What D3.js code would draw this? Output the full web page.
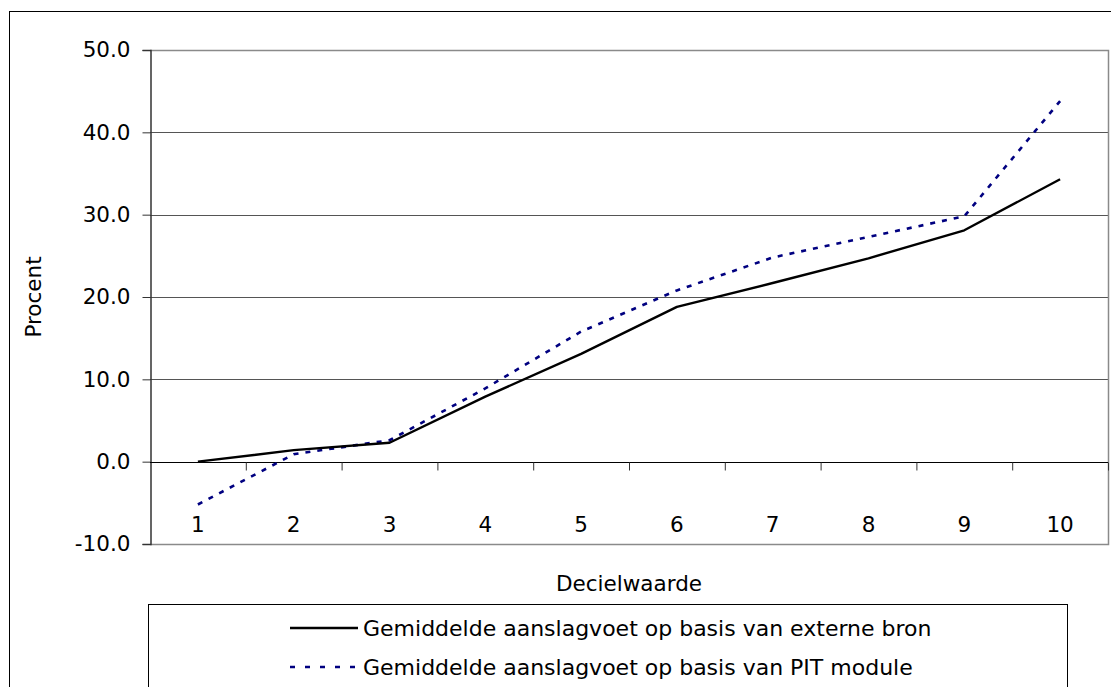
<!DOCTYPE html>
<html>
<head>
<meta charset="utf-8">
<script src="https://cdn.jsdelivr.net/npm/d3@7"></script>
<style>
  body { margin: 0; background: #fff; }
  svg { display: block; font-family: 'DejaVu Sans', Verdana, sans-serif; }
</style>
</head>
<body>
<div id="chart"></div>
<script>
const deciles = [1, 2, 3, 4, 5, 6, 7, 8, 9, 10]
const externeBron = [0.0, 1.4, 2.3, 7.9, 13.1, 18.8, 21.7, 24.7, 28.1, 34.3]
const pitModule = [-5.2, 0.9, 2.6, 8.9, 15.8, 20.8, 24.8, 27.3, 29.8, 43.8]
const yTicks = [-10, 0, 10, 20, 30, 40, 50]
const seriesNames = [
  'Gemiddelde aanslagvoet op basis van externe bron',
  'Gemiddelde aanslagvoet op basis van PIT module'
]

const W = 1111, H = 687
const plot = {left: 150, top: 50, right: 1108, bottom: 544}
const fontSize = 21.5

const svg = d3.select('#chart').append('svg')
  .attr('width', W)
  .attr('height', H)

// outer chart border
svg.append('rect')
  .attr('x', 9.5).attr('y', 11.5)
  .attr('width', 1110).attr('height', 690)
  .attr('fill', 'none')
  .attr('stroke', '#000')

const x = d3.scaleLinear()
  .domain([0.5, 10.5])
  .range([plot.left, plot.right])
const y = d3.scaleLinear()
  .domain([-10, 50])
  .range([plot.bottom, plot.top])

// Excel style labels: one decimal, plain hyphen for negatives
const fmt = d => d3.format('.1f')(d).replace('\u2212', '-')

// gridlines
svg.append('g')
  .selectAll('line')
  .data(yTicks.filter(d => d !== 0 && d !== -10 && d !== 50))
  .join('line')
    .attr('x1', plot.left).attr('x2', plot.right)
    .attr('y1', d => Math.round(y(d)) + 0.5).attr('y2', d => Math.round(y(d)) + 0.5)
    .attr('stroke', '#555')

// plot frame (top, right, bottom)
svg.append('path')
  .attr('d', `M${plot.left},${plot.top + 0.5}H${plot.right + 0.5}V${plot.bottom + 0.5}H${plot.left}`)
  .attr('fill', 'none')
  .attr('stroke', '#8a8a8a')
  .attr('stroke-width', 1.5)

// y axis
const yAxis = svg.append('g')
  .attr('transform', `translate(${plot.left + 0.5},0)`)
  .call(d3.axisLeft(y).tickValues(yTicks).tickSize(8).tickPadding(12).tickFormat(fmt))
yAxis.select('.domain').attr('stroke', '#333').attr('stroke-width', 1.5)
yAxis.selectAll('.tick line').attr('stroke', '#333')
yAxis.selectAll('.tick text')
  .attr('font-size', fontSize)
  .attr('fill', '#000')
  .attr('font-family', "'DejaVu Sans', Verdana, sans-serif")

// x axis at zero with tick marks between categories
const xAxis = svg.append('g')
  .attr('transform', `translate(0,${Math.round(y(0)) + 0.5})`)
  .call(d3.axisBottom(x).tickValues(d3.range(1.5, 11, 1)).tickSize(8).tickFormat(''))
xAxis.select('.domain').attr('stroke', '#000').attr('d', `M${plot.left},0H${plot.right}`)
xAxis.selectAll('.tick line').attr('stroke', '#333')

// category labels near bottom of the plot
svg.append('g')
  .selectAll('text')
  .data(deciles)
  .join('text')
    .attr('x', d => x(d))
    .attr('y', plot.bottom - 12)
    .attr('text-anchor', 'middle')
    .attr('font-size', fontSize)
    .text(d => d)

const line = d3.line()
  .x((d, i) => x(deciles[i]))
  .y(d => y(d))

svg.append('path')
  .datum(pitModule)
  .attr('d', line)
  .attr('fill', 'none')
  .attr('stroke', '#000080')
  .attr('stroke-width', 2.6)
  .attr('stroke-dasharray', '5 7')

svg.append('path')
  .datum(externeBron)
  .attr('d', line)
  .attr('fill', 'none')
  .attr('stroke', '#000')
  .attr('stroke-width', 2.4)
  .attr('stroke-linejoin', 'round')

// axis titles
svg.append('text')
  .attr('x', (plot.left + plot.right) / 2)
  .attr('y', 591)
  .attr('text-anchor', 'middle')
  .attr('font-size', fontSize)
  .text('Decielwaarde')

svg.append('text')
  .attr('transform', `translate(41,${(plot.top + plot.bottom) / 2}) rotate(-90)`)
  .attr('text-anchor', 'middle')
  .attr('font-size', fontSize)
  .text('Procent')

// legend
const legend = svg.append('g')
legend.append('rect')
  .attr('x', 148.5).attr('y', 604.5)
  .attr('width', 919).attr('height', 100)
  .attr('fill', '#fff')
  .attr('stroke', '#000')

const rows = legend.selectAll('g.row')
  .data(seriesNames)
  .join('g')
    .attr('class', 'row')
    .attr('transform', (d, i) => `translate(0,${628 + i * 39})`)
rows.append('line')
  .attr('x1', 290).attr('x2', 358)
  .attr('stroke', (d, i) => i === 0 ? '#000' : '#000080')
  .attr('stroke-width', 2.4)
  .attr('stroke-dasharray', (d, i) => i === 0 ? null : '5 10')
rows.append('text')
  .attr('x', 363)
  .attr('dy', '0.35em')
  .attr('font-size', 22)
  .text(d => d)
</script>
</body>
</html>
